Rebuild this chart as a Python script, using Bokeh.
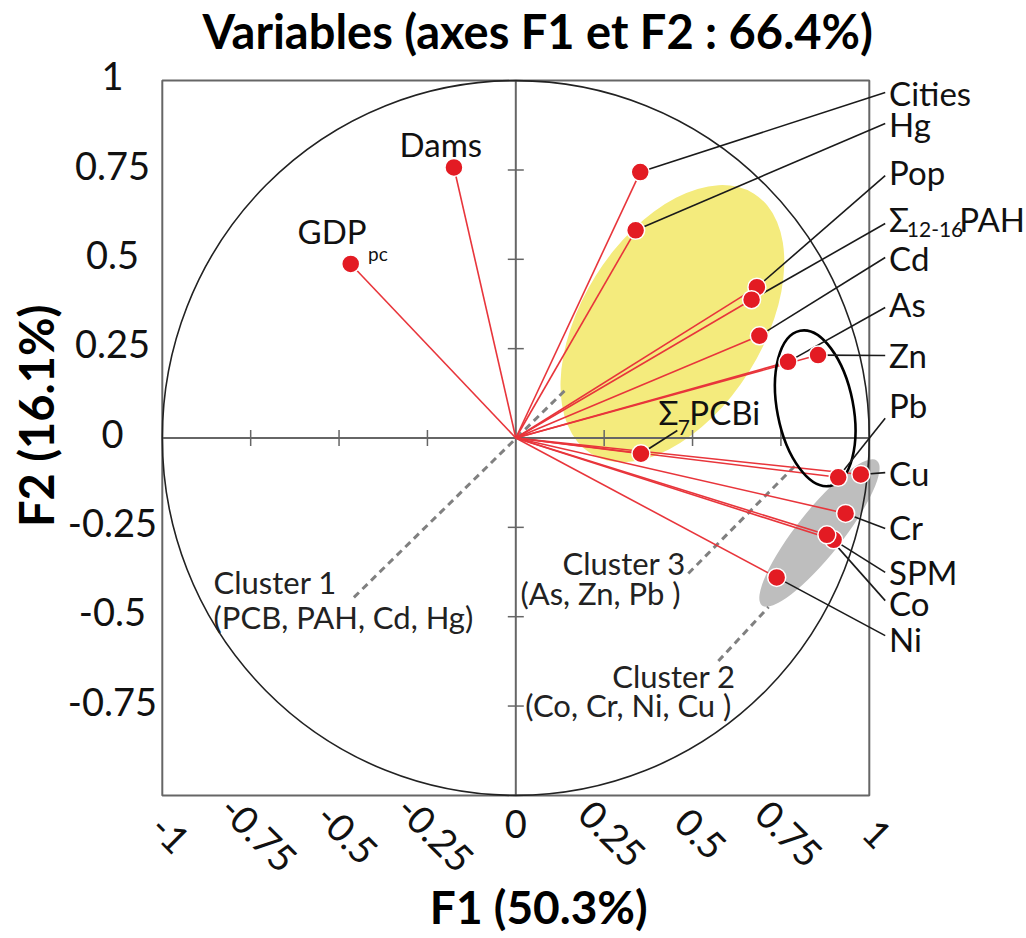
import math
from bokeh.plotting import figure
from bokeh.models import Range1d, ColumnDataSource
from bokeh.core.properties import value
from bokeh.embed import file_html
from bokeh.resources import INLINE

# ---------------- data (correlations with factors F1, F2) ----------------
var_names = ["Dams", "GDPpc", "Cities", "Hg", "Pop", "PAH", "Cd", "As", "Zn",
             "PCBi", "Pb", "Cu", "Cr", "SPM", "Co", "Ni"]
f1 = [-0.175, -0.467, 0.352, 0.339, 0.682, 0.667, 0.689, 0.770, 0.855,
      0.354, 0.912, 0.976, 0.933, 0.899, 0.880, 0.738]
f2 = [0.757, 0.487, 0.744, 0.581, 0.422, 0.387, 0.286, 0.213, 0.232,
      -0.044, -0.110, -0.102, -0.211, -0.285, -0.271, -0.390]

x_ticks = [-1, -0.75, -0.5, -0.25, 0, 0.25, 0.5, 0.75, 1]
x_tick_labels = ["-1", "-0.75", "-0.5", "-0.25", "0", "0.25", "0.5", "0.75", "1"]
y_ticks = [-0.75, -0.5, -0.25, 0, 0.25, 0.5, 0.75, 1]
y_tick_labels = ["-0.75", "-0.5", "-0.25", "0", "0.25", "0.5", "0.75", "1"]
inner_ticks = [-0.75, -0.5, -0.25, 0.25, 0.5, 0.75]

title_text = "Variables (axes F1 et F2 : 66.4%)"
xlabel_text = "F1 (50.3%)"
ylabel_text = "F2 (16.1%)"

# right-hand labels with leader lines
right_names = ["Cities", "Hg", "Pop", "Cd", "As", "Zn", "Pb", "Cu", "Cr", "SPM", "Co", "Ni"]
right_text_y = [0.964, 0.878, 0.744, 0.505, 0.376, 0.231, 0.091, -0.097, -0.250, -0.374, -0.461, -0.562]
right_lead_y = [0.967, 0.880, 0.734, 0.505, 0.365, 0.231, 0.055, -0.097, -0.253, -0.376, -0.455, -0.553]
pah_lead_y = 0.600
pcb_lead = (0.457, 0.021)

# cluster annotations
cluster_lines_x0 = [-0.458, 0.488, 0.573]
cluster_lines_y0 = [-0.446, -0.379, -0.624]
cluster_lines_x1 = [0.147, 0.791, 0.715]
cluster_lines_y1 = [0.141, -0.077, -0.473]
cluster_text = ["Cluster 1", "(PCB, PAH, Cd, Hg)", "Cluster 3", "(As, Zn, Pb )",
                "Cluster 2", "(Co, Cr, Ni, Cu )"]
cluster_text_x = [-0.855, -0.855, 0.132, 0.013, 0.273, 0.027]
cluster_text_y = [-0.404, -0.502, -0.351, -0.435, -0.665, -0.748]

FONT = "Lato"
RED = "#E31B23"
LINE_RED = "#E8353B"
GRAY = "#666666"
TXT = "#111111"

# pixel scale: 353.5 px per unit in x, 357.4 px per unit in y; origin at (515.3, 437.5)
W, H = 1024, 936
X0, SX, Y0, SY = 515.3, 353.5, 437.5, 357.4
p = figure(width=W, height=H,
           x_range=Range1d(-X0 / SX, (W - X0) / SX),
           y_range=Range1d((Y0 - H) / SY, Y0 / SY),
           x_axis_location=None, y_axis_location=None,
           output_backend="svg", toolbar_location=None,
           min_border=0)
p.grid.visible = False
p.outline_line_color = None
p.title.visible = False

# ellipses (cluster areas)
p.ellipse(x=0.443, y=0.320, width=0.868, height=0.506, angle=1.01,
          fill_color="#F4EB7D", line_color=None)
p.ellipse(x=0.859, y=-0.266, width=0.523, height=0.127, angle=0.90,
          fill_color="#BEBEBE", line_color=None)

# frame, zero axes and their small ticks
p.quad(left=-1, right=1, bottom=-1, top=1, fill_color=None, line_color=GRAY, line_width=2)
p.segment(x0=[-1, 0], y0=[0, -1], x1=[1, 0], y1=[0, 1], line_color=GRAY, line_width=2)
p.scatter(x=inner_ticks, y=[0] * len(inner_ticks), marker="dash", angle=math.pi / 2,
          size=16, line_color=GRAY, line_width=1.5)
p.scatter(x=[0] * len(inner_ticks), y=inner_ticks, marker="dash",
          size=16, line_color=GRAY, line_width=1.5)

# tick labels
p.text(x=[-1.141] * len(y_ticks), y=[t + 0.012 for t in y_ticks], text=y_tick_labels,
       text_font=value(FONT), text_font_size="38px", text_align="center",
       text_baseline="middle", text_color=TXT)
xl_src = ColumnDataSource(dict(
    x=[t + (0 if lab == "0" else 0.023) for t, lab in zip(x_ticks, x_tick_labels)],
    y=[-1.081 if lab == "0" else -1.107 for lab in x_tick_labels],
    a=[0 if lab == "0" else -math.pi / 4 for lab in x_tick_labels],
    t=x_tick_labels))
p.text(x="x", y="y", text="t", angle="a", source=xl_src, text_font=value(FONT),
       text_font_size="38px", text_align="center", text_baseline="middle", text_color=TXT)

# titles
p.text(x=[0.062], y=[1.140], text=[title_text], text_font=value(FONT), text_font_size="47px",
       text_font_style="bold", text_align="center", text_baseline="middle", text_color="black")
p.text(x=[0.065], y=[-1.311], text=[xlabel_text], text_font=value(FONT), text_font_size="46px",
       text_font_style="bold", text_align="center", text_baseline="middle", text_color="black")
p.text(x=[-1.357], y=[0.062], text=[ylabel_text], angle=math.pi / 2, text_font=value(FONT),
       text_font_size="47px", text_font_style="bold", text_align="center",
       text_baseline="middle", text_color="black")

# correlation circle
p.ellipse(x=0, y=0, width=2, height=2, fill_color=None, line_color="#222222", line_width=1.6)

# dashed cluster pointers
p.segment(x0=cluster_lines_x0, y0=cluster_lines_y0, x1=cluster_lines_x1, y1=cluster_lines_y1,
          line_color="#808080", line_width=3, line_dash="7 5")

# vectors
src = ColumnDataSource(dict(x=f1, y=f2, name=var_names))
p.segment(x0=0, y0=0, x1="x", y1="y", source=src, line_color=LINE_RED, line_width=1.6)

# black ellipse (cluster 3)
p.ellipse(x=0.847, y=0.083, width=0.447, height=0.213, angle=1.763,
          fill_color=None, line_color="black", line_width=2.6)

# leader lines
pos = {n: (x, y) for n, x, y in zip(var_names, f1, f2)}
LEAD_X = 1.045
lx0 = [pos[n][0] for n in right_names] + [pos["PAH"][0], pos["PCBi"][0]]
ly0 = [pos[n][1] for n in right_names] + [pos["PAH"][1], pos["PCBi"][1]]
lx1 = [LEAD_X] * len(right_names) + [LEAD_X, pcb_lead[0]]
ly1 = right_lead_y + [pah_lead_y, pcb_lead[1]]
p.segment(x0=lx0, y0=ly0, x1=lx1, y1=ly1, line_color="#1a1a1a", line_width=1.6)

# points
p.scatter("x", "y", source=src, size=18, fill_color=RED, line_color="white", line_width=1.5)

# variable labels
TX = 1.056
p.text(x=[TX] * len(right_names), y=right_text_y, text=right_names,
       text_font=value(FONT), text_font_size="33px", text_align="left",
       text_baseline="middle", text_color=TXT)
# Sigma_12-16 PAH
p.text(x=[TX, 1.2545], y=[0.614, 0.614], text=["Σ", "PAH"], text_font=value(FONT),
       text_font_size="33px", text_align="left", text_baseline="middle", text_color=TXT)
p.text(x=[1.106], y=[0.583], text=["12-16"], text_font=value(FONT),
       text_font_size="21px", text_align="left", text_baseline="middle", text_color=TXT)
# Sigma_7 PCBi
p.text(x=[0.404, 0.491], y=[0.072, 0.072], text=["Σ", "PCBi"], text_font=value(FONT),
       text_font_size="33px", text_align="left", text_baseline="middle", text_color=TXT)
p.text(x=[0.458], y=[0.030], text=["7"], text_font=value(FONT),
       text_font_size="21px", text_align="left", text_baseline="middle", text_color=TXT)
# Dams, GDP_pc
p.text(x=[-0.212], y=[0.824], text=["Dams"], text_font=value(FONT), text_font_size="33px",
       text_align="center", text_baseline="middle", text_color=TXT)
p.text(x=[-0.422], y=[0.578], text=["GDP"], text_font=value(FONT), text_font_size="33px",
       text_align="right", text_baseline="middle", text_color=TXT)
p.text(x=[-0.418], y=[0.515], text=["pc"], text_font=value(FONT), text_font_size="19px",
       text_align="left", text_baseline="middle", text_color=TXT)

# cluster labels
p.text(x=cluster_text_x, y=cluster_text_y, text=cluster_text, text_font=value(FONT),
       text_font_size="31px", text_align="left", text_baseline="middle", text_color="#222222")

open("out.html", "w").write(file_html(p, INLINE))
